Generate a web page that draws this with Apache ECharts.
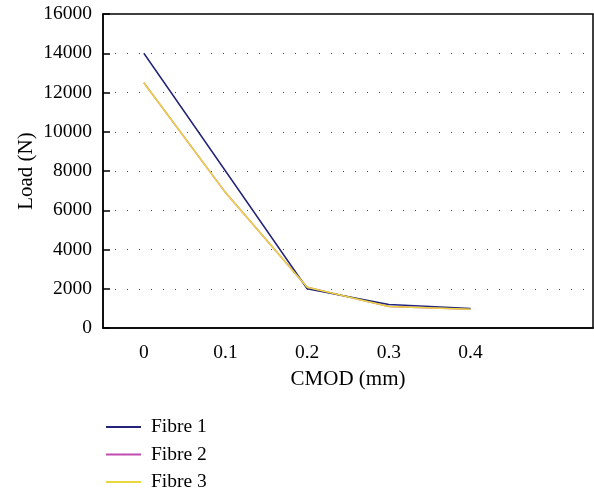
<!DOCTYPE html>
<html>
<head>
<meta charset="utf-8">
<script src="https://cdn.jsdelivr.net/npm/echarts@6/dist/echarts.min.js"></script>
<style>html,body{margin:0;padding:0;background:#fff;}#c{width:594px;height:490px;}</style>
</head>
<body>
<div id="c"></div>
<script>
const categories = ['0', '0.1', '0.2', '0.3', '0.4', ''];
const fibre1 = [14000, 8000, 2000, 1200, 1000];
const fibre2 = [12500, 6900, 2080, 1100, 960];
const fibre3 = [12500, 6900, 2080, 1100, 960];
const seriesNames = ['Fibre 1', 'Fibre 2', 'Fibre 3'];
const colors = ['#23237a', '#c04cb0', '#ecd640'];

const font = 'Liberation Serif';
const chart = echarts.init(document.getElementById('c'));
const mk = (name, data, color, z) => ({
  name, type: 'line', data, symbol: 'none', z,
  lineStyle: { color, width: 1.5 }, itemStyle: { color }
});
chart.setOption({
  animation: false,
  grid: { left: 103, top: 14, right: 1, bottom: 162, show: true, borderColor: '#000', borderWidth: 1.5, backgroundColor: 'transparent' },
  legend: {
    orient: 'vertical', left: 105, top: 417, height: 100, padding: 0, itemWidth: 35, itemHeight: 2, itemGap: 7.5,
    textStyle: { fontFamily: font, fontSize: 19.5, lineHeight: 20, color: '#000', padding: [0, 0, 0, 5] },
    data: seriesNames
  },
  xAxis: {
    type: 'category', data: categories, boundaryGap: true,
    name: 'CMOD (mm)', nameLocation: 'middle', nameGap: 41, nameMoveOverlap: false,
    nameTextStyle: { fontFamily: font, fontSize: 21, color: '#000' },
    axisLine: { lineStyle: { color: '#000', width: 1.5 } },
    axisTick: { inside: true, length: 7, lineStyle: { color: '#000', width: 1.5 } },
    axisLabel: { fontFamily: font, fontSize: 19.5, color: '#000', margin: 15 },
    splitLine: { show: false }
  },
  yAxis: {
    type: 'value', min: 0, max: 16000, interval: 2000,
    name: 'Load (N)', nameLocation: 'middle', nameGap: 66, nameMoveOverlap: false,
    nameTextStyle: { fontFamily: font, fontSize: 21, color: '#000' },
    axisLine: { show: true, lineStyle: { color: '#000', width: 1.5 } },
    axisTick: { show: true, inside: true, length: 7, lineStyle: { color: '#000', width: 1.5 } },
    axisLabel: { fontFamily: font, fontSize: 19.5, color: '#000', margin: 11, formatter: v => String(v) },
    splitLine: { show: true, lineStyle: { color: '#444', width: 1, type: [1, 11] } }
  },
  series: [
    mk(seriesNames[0], fibre1, colors[0], 3),
    mk(seriesNames[1], fibre2, colors[1], 2),
    mk(seriesNames[2], fibre3, colors[2], 4)
  ]
});
</script>
</body>
</html>
